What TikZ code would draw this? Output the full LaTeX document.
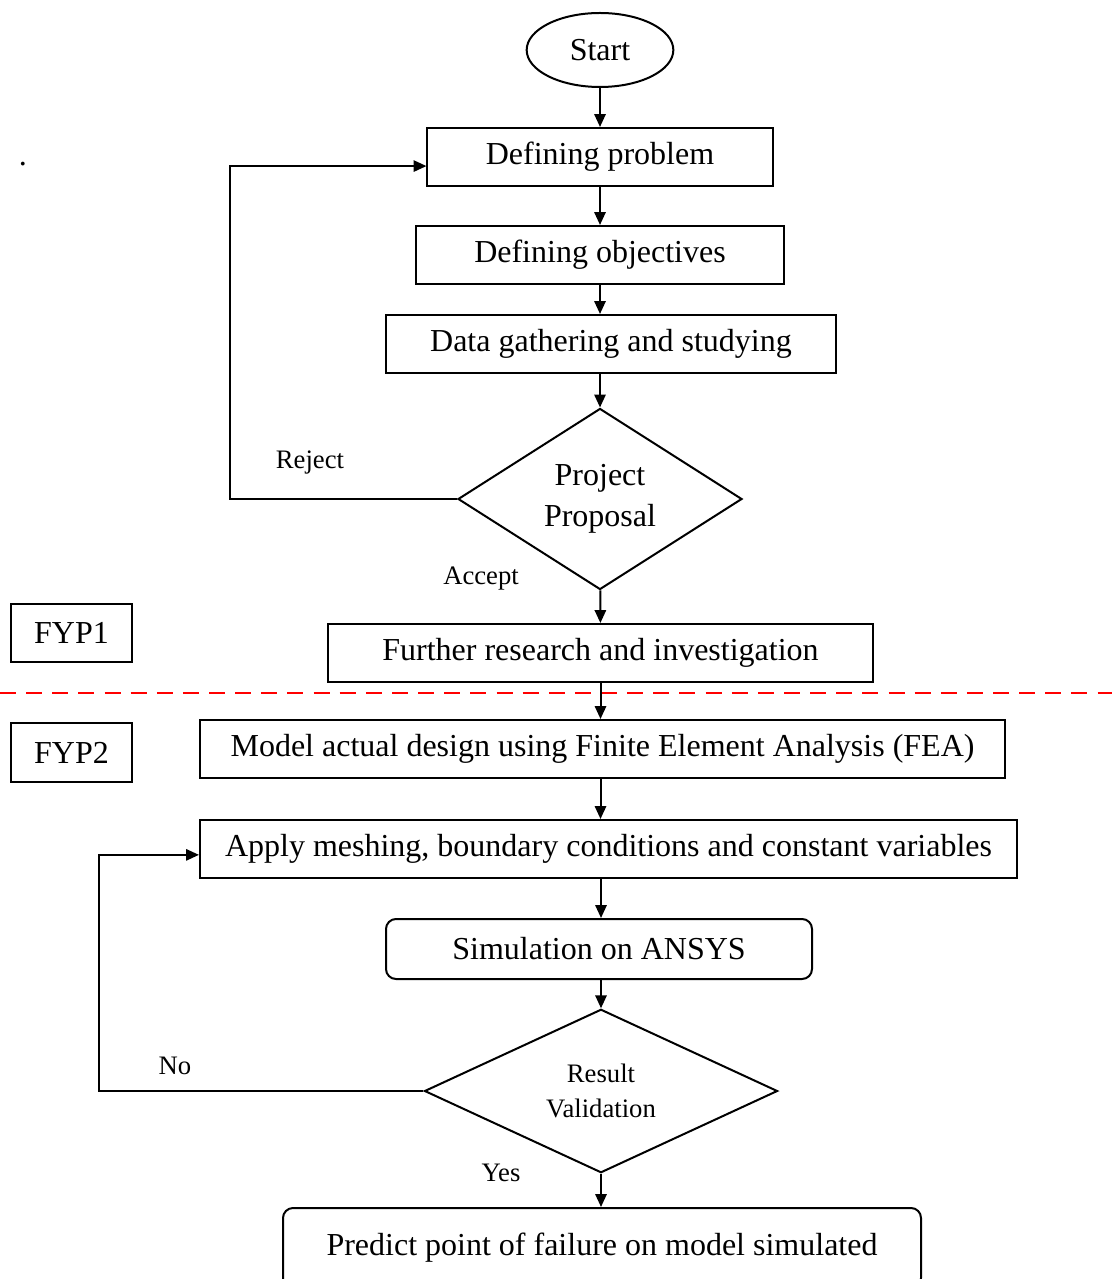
\documentclass[tikz,border=0pt]{standalone}
\usepackage{fontspec}
\setmainfont{Liberation Serif}
\usetikzlibrary{shapes.geometric,arrows.meta}

\begin{document}
\begin{tikzpicture}[x=0.375pt,y=-0.375pt,line width=0.75pt,
    >={Triangle[length=4.8pt,width=4.2pt]}]
    \tikzstyle{every node}=[font=\fontsize{12}{14.4}\selectfont]
    \tikzstyle{process}=[rectangle,draw,minimum height=21.75pt,inner sep=0pt]
    \tikzstyle{rounded process}=[process,rounded corners=3.75pt]
    \tikzstyle{terminal}=[ellipse,draw,minimum width=55pt,minimum height=27.75pt,inner sep=0pt]
    \tikzstyle{decision}=[diamond,draw,inner sep=0pt,align=center]
    \tikzstyle{phase}=[process,minimum width=45.4pt,minimum height=22pt]
    \tikzstyle{annot}=[font=\fontsize{10}{12}\selectfont]
    \tikzstyle{flow}=[->]

    \useasboundingbox (0,0) rectangle (1112,1279);

    % Draw the phase boundary first so the arrow crosses on top
    \draw[red,line width=0.8pt,dash pattern=on 6pt off 3.8pt] (0,693) -- (1112,693);

    % Draw the FYP1 nodes
    \node[terminal] (start) at (600,50) {Start};
    \node[process,minimum width=129.4pt] (defprob) at (600,157) {Defining problem};
    \node[process,minimum width=138pt] (defobj) at (600,255) {Defining objectives};
    \node[process,minimum width=168.75pt] (data) at (611,344) {Data gathering and studying};
    \node[decision,minimum width=106.5pt,minimum height=64.9pt,
        font=\fontsize{12}{15.4}\selectfont] (proposal) at (600,499) {Project\\Proposal};
    \node[process,minimum width=204.4pt] (further) at (600.5,653) {Further research and investigation};

    % Draw the FYP2 nodes
    \node[process,minimum width=301.9pt] (model) at (602.5,749) {Model actual design using Finite Element Analysis (FEA)};
    \node[process,minimum width=306.4pt] (apply) at (608.5,849) {Apply meshing, boundary conditions and constant variables};
    \node[rounded process,minimum width=159.75pt,minimum height=22.5pt] (sim) at (599,949) {Simulation on ANSYS};
    \node[decision,minimum width=132.4pt,minimum height=54pt,
        font=\fontsize{10}{13.1}\selectfont] (validation) at (601,1091) {Result\\Validation};
    \node[rounded process,minimum width=239.25pt,minimum height=30pt] (predict) at (602,1248) {Predict point of failure on model simulated};

    % Phase labels
    \node[phase] (fyp1) at (71.5,633) {FYP1};
    \node[phase] (fyp2) at (71.5,752.5) {FYP2};
    \node[anchor=base] (dot) at (23,166) {.};

    % Connect the main flow
    \draw[flow] (start) -- (defprob);
    \draw[flow] (defprob) -- (defobj);
    \draw[flow] (defobj) -- (defobj |- data.north);
    \draw[flow] (data.south -| proposal.north) -- (proposal.north);
    \draw[flow] (proposal) -- (further);
    \draw[flow] (further) -- (further |- model.north);
    \draw[flow] (model.south -| further) -- (further |- apply.north);
    \draw[flow] (apply.south -| validation) -- (validation |- sim.north);
    \draw[flow] (sim.south -| validation.north) -- (validation.north);
    \draw[flow] (validation) -- (validation |- predict.north);

    % Loops back
    \coordinate (rejectturn) at (230,499);
    \coordinate (noturn) at (99,1091);
    \draw[flow] (proposal.west) -- (rejectturn) |- ([yshift=-3.4pt]defprob.west);
    \draw[flow] (validation.west) -- (noturn) |- ([yshift=-2.2pt]apply.west);

    % Annotate the decisions
    \node[annot] (reject) at (310,463) {Reject};
    \node[annot] (accept) at (481,579) {Accept};
    \node[annot] (no) at (175,1066) {No};
    \node[annot] (yes) at (501,1173) {Yes};
\end{tikzpicture}
\end{document}
